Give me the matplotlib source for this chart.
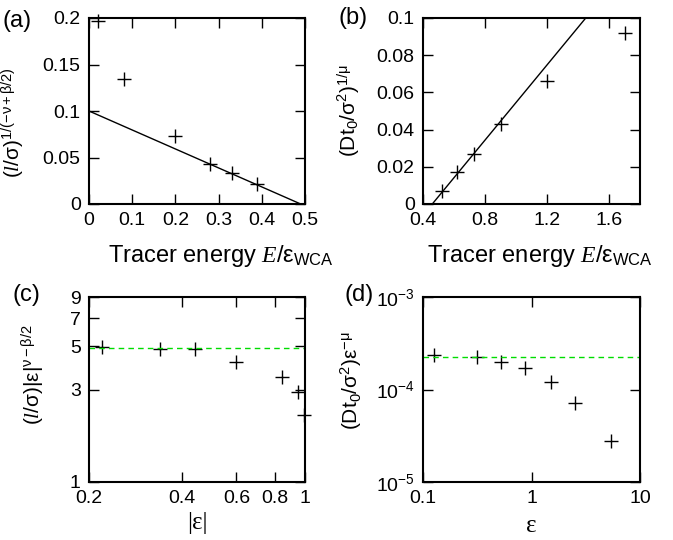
import numpy as np
import matplotlib
matplotlib.use('Agg')
from matplotlib import pyplot as plt
from matplotlib import ticker

plt.rcParams['font.family'] = ['Liberation Sans', 'DejaVu Sans']
plt.rcParams['mathtext.fontset'] = 'custom'
plt.rcParams['mathtext.rm'] = 'Liberation Sans'
plt.rcParams['mathtext.it'] = 'Liberation Serif:italic'
plt.rcParams['mathtext.bf'] = 'Liberation Sans:bold'

# (a) correlation length vs tracer energy
e_a = [0.02, 0.08, 0.20, 0.28, 0.33, 0.39]
l_a = [0.197, 0.134, 0.073, 0.043, 0.033, 0.021]
fit_a_x = [0.0, 0.49]
fit_a_y = [0.1, 0.0]

# (b) diffusion vs tracer energy
e_b = [0.52, 0.62, 0.73, 0.90, 1.20, 1.70]
d_b = [0.007, 0.017, 0.027, 0.043, 0.066, 0.092]
fit_b_x = [0.46, 1.45]
fit_b_y = [0.0, 0.1]

# (c) scaled length vs |eps|
eps_c = [0.22, 0.34, 0.44, 0.60, 0.84, 0.947, 0.99]
l_c = [4.95, 4.83, 4.83, 4.17, 3.49, 2.92, 2.22]
level_c = 4.92

# (d) scaled diffusion vs eps
eps_d = [0.126, 0.316, 0.52, 0.87, 1.51, 2.5, 5.4]
d_d = [2.36e-4, 2.26e-4, 2.0e-4, 1.69e-4, 1.21e-4, 7.1e-5, 2.8e-5]
level_d = 2.23e-4

W, H = 673, 540
fig = plt.figure(figsize=(W / 100, H / 100), dpi=100)

def box(l, t, r, b):
    return [l / W, 1 - b / H, (r - l) / W, (b - t) / H]

axa = fig.add_axes(box(89, 18, 305, 204))
axb = fig.add_axes(box(423, 18, 640, 204))
axc = fig.add_axes(box(89, 297, 305, 482))
axd = fig.add_axes(box(423, 297, 640, 482))

mk = dict(marker='+', ls='none', color='black', ms=10, mew=1.0, clip_on=False)
gr = dict(color='#00dd00', lw=1.0, ls=(0, (4, 3)))

for ax in [axa, axb, axc, axd]:
    ax.tick_params(direction='in', top=True, right=True, length=7, width=1,
                   labelsize=14)
    ax.tick_params(axis='x', pad=6)
    ax.tick_params(axis='y', pad=6)
    for s in ax.spines.values():
        s.set_linewidth(1.5)

axa.plot(e_a, l_a, **mk)
axa.plot(fit_a_x, fit_a_y, color='black', lw=1)
axa.set_xlim(0, 0.5)
axa.set_ylim(0, 0.2)
axa.set_xticks([0, 0.1, 0.2, 0.3, 0.4, 0.5])
axa.set_xticklabels(['0', '0.1', '0.2', '0.3', '0.4', '0.5'])
axa.set_yticks([0, 0.05, 0.1, 0.15, 0.2])
axa.set_yticklabels(['0', '0.05', '0.1', '0.15', '0.2'])
axa.set_xlabel(r'Tracer energy $E/\mathrm{ε}_{\mathrm{WCA}}$', fontsize=17)
axa.xaxis.set_label_coords(0.61, -0.21)
axa.set_ylabel(r'$(l/\mathrm{σ})^{\mathrm{1/(-ν+β/2)}}$', fontsize=15)
axa.yaxis.set_label_coords(-0.29, 0.44)

axb.plot(e_b, d_b, **mk)
axb.plot(fit_b_x, fit_b_y, color='black', lw=1)
axb.set_xlim(0.4, 1.8)
axb.set_ylim(0, 0.1)
axb.set_xticks([0.4, 0.8, 1.2, 1.6])
axb.set_xticklabels(['0.4', '0.8', '1.2', '1.6'])
axb.set_yticks([0, 0.02, 0.04, 0.06, 0.08, 0.1])
axb.set_yticklabels(['0', '0.02', '0.04', '0.06', '0.08', '0.1'])
axb.set_xlabel(r'Tracer energy $E/\mathrm{ε}_{\mathrm{WCA}}$', fontsize=17)
axb.xaxis.set_label_coords(0.54, -0.21)
axb.set_ylabel(r'$\mathrm{(Dt_0/σ^2)}^{\mathrm{1/μ}}$', fontsize=15)
axb.yaxis.set_label_coords(-0.28, 0.5)

axc.plot(eps_c, l_c, **mk)
axc.axhline(level_c, **gr)
axc.set_xscale('log')
axc.set_yscale('log')
axc.set_xlim(0.2, 1)
axc.set_ylim(1, 9)
axc.xaxis.set_major_locator(ticker.FixedLocator([0.2, 0.4, 0.6, 0.8, 1]))
axc.xaxis.set_major_formatter(ticker.FixedFormatter(['0.2', '0.4', '0.6', '0.8', '1']))
axc.yaxis.set_major_locator(ticker.FixedLocator([1, 3, 5, 7, 9]))
axc.yaxis.set_major_formatter(ticker.FixedFormatter(['1', '3', '5', '7', '9']))
axc.xaxis.set_minor_locator(ticker.NullLocator())
axc.yaxis.set_minor_locator(ticker.NullLocator())
axc.set_xlabel('|ε|', fontsize=18, family=['Liberation Serif'])
axc.xaxis.set_label_coords(0.5, -0.16)
axc.set_ylabel(r'$(l/\mathrm{σ})\mathrm{|ε|}^{\mathrm{ν-β/2}}$', fontsize=15)
axc.yaxis.set_label_coords(-0.2, 0.58)

axd.plot(eps_d, d_d, **mk)
axd.axhline(level_d, **gr)
axd.set_xscale('log')
axd.set_yscale('log')
axd.set_xlim(0.1, 10)
axd.set_ylim(1e-5, 1e-3)
axd.xaxis.set_major_locator(ticker.FixedLocator([0.1, 1, 10]))
axd.xaxis.set_major_formatter(ticker.FixedFormatter(['0.1', '1', '10']))
axd.yaxis.set_major_locator(ticker.FixedLocator([1e-5, 1e-4, 1e-3]))
axd.xaxis.set_minor_locator(ticker.NullLocator())
axd.yaxis.set_minor_locator(ticker.NullLocator())
axd.set_xlabel('ε', fontsize=18, family=['Liberation Serif'])
axd.xaxis.set_label_coords(0.5, -0.18)
axd.set_ylabel(r'$\mathrm{(Dt_0/σ^2)ε}^{\mathrm{-μ}}$', fontsize=15)
axd.yaxis.set_label_coords(-0.27, 0.55)

fig.text(2 / W, 1 - 21 / H, '(a)', fontsize=17, va='center')
fig.text(338 / W, 1 - 18 / H, '(b)', fontsize=17, va='center')
fig.text(13 / W, 1 - 295 / H, '(c)', fontsize=17, va='center')
fig.text(344 / W, 1 - 295 / H, '(d)', fontsize=17, va='center')

fig.savefig('out.png', dpi=100)
